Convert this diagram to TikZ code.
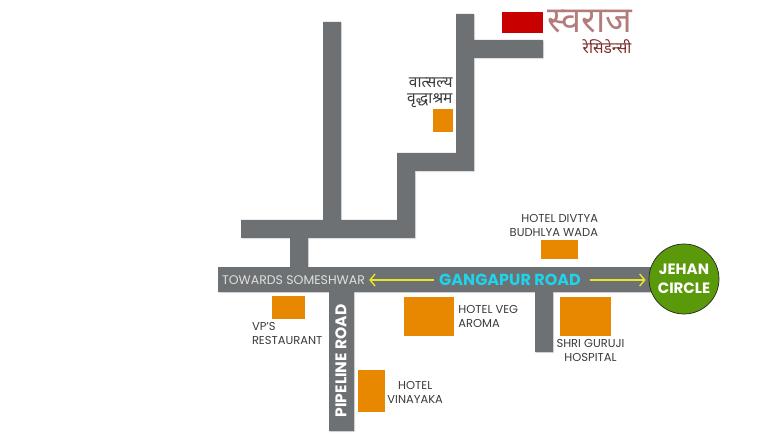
\documentclass[tikz,border=0pt]{standalone}
\usepackage{fontspec}
\setmainfont{Poppins}
\newfontfamily\devfont[Script=Devanagari]{Noto Sans}
\usetikzlibrary{positioning}
\usetikzlibrary{arrows.meta}
\usetikzlibrary{shadows}
\definecolor{roadgray}{HTML}{6D7173}
\definecolor{plotorange}{HTML}{E88700}
\definecolor{plotred}{HTML}{C80000}
\definecolor{circlegreen}{HTML}{5A9A0A}
\definecolor{roadcyan}{HTML}{1FD3EA}
\definecolor{roadyellow}{HTML}{E6E62A}
\definecolor{titlerose}{HTML}{B27C7C}
\definecolor{titlemaroon}{HTML}{7A2A2A}
\definecolor{labelgray}{HTML}{3A3A3A}
\begin{document}
\begin{tikzpicture}[x=1pt,y=-1pt,
    roadbar/.style={fill=roadgray, drop shadow={opacity=0.25, shadow xshift=1.2pt, shadow yshift=-1.2pt}},
    plot/.style={fill=plotorange, draw=none, inner sep=0pt, minimum width=#1},
    place/.style={text=labelgray, font=\fontsize{11.5}{14}\selectfont, align=center, inner sep=0pt},
    roadtext/.style={inner sep=0pt, align=center}]
    \useasboundingbox (0,0) rectangle (780,441);
    %roads, one path so the shadow stays behind all of them
    \fill[roadbar] \foreach \xa/\ya/\xb/\yb in {323/22/341/222, 241/220/415/238, 290/238/308/268,
        218/267/655/292, 329/292/354/431, 397/153/415/220, 397/153/474/171, 456/14/474/171,
        474/40/543/58, 535/292/553/352} { (\xa,\ya) rectangle (\xb,\yb) };

    %plots
    \node[plot=41pt, minimum height=21pt, fill=plotred] (swaraj) at (522.5,22.5) {};
    \node[plot=20pt, minimum height=23pt] (vriddha) at (442.5,120.5) {};
    \node[plot=37pt, minimum height=19pt] (divtya) at (559.5,249.5) {};
    \node[plot=33pt, minimum height=23pt] (vp) at (288.5,307.5) {};
    \node[plot=50pt, minimum height=39pt] (veg) at (429,316.5) {};
    \node[plot=51pt, minimum height=39pt] (guruji) at (585.5,316.5) {};
    \node[plot=27pt, minimum height=42pt] (vinayaka) at (371.5,391) {};

    %labels
    \node[inner sep=0pt, text=titlerose, font=\devfont\fontsize{36}{36}\selectfont] (title) at (590,22) {स्वराज};
    \node[inner sep=0pt, text=titlemaroon, font=\devfont\bfseries\fontsize{15.5}{16}\selectfont] (subtitle) at (607,47) {रेसिडेन्सी};
    \node[place, above=1pt of vriddha.north east, anchor=south east, align=right, font=\devfont\fontsize{15.5}{15.5}\selectfont] (vriddhatext) {वात्सल्य\\वृद्धाश्रम};
    \node[place, above=3pt of divtya.north east, anchor=south east, align=right, xshift=20pt] (divtyatext) {HOTEL DIVTYA\\BUDHLYA WADA};
    \node[place, below=3pt of vp.south west, anchor=north west, xshift=-20pt, align=left] (vptext) {VP'S\\RESTAURANT};
    \node[place, right=4pt of veg, align=left] (vegtext) {HOTEL VEG\\AROMA};
    \node[place, below=3pt of guruji, xshift=5pt] (gurujitext) {SHRI GURUJI\\HOSPITAL};
    \node[place, right=2pt of vinayaka, yshift=-1pt] (vinayakatext) {HOTEL\\VINAYAKA};

    \node[roadtext, text=white!88!black, font=\fontsize{12.5}{14}\selectfont] (towards) at (293.5,280) {TOWARDS SOMESHWAR};
    \node[roadtext, text=roadcyan, font=\bfseries\fontsize{16}{18}\selectfont] (gangapur) at (510,280) {GANGAPUR ROAD};
    \node[roadtext, text=white, rotate=90, font=\bfseries\fontsize{15.5}{17}\selectfont] (pipeline) at (341,361) {PIPELINE ROAD};

    \node[circle, fill=circlegreen, draw=black!85, line width=0.7pt, minimum size=70pt, inner sep=0pt, align=center,
        text=white, font=\bfseries\fontsize{15}{19.5}\selectfont] (jehan) at (684,279) {JEHAN\\CIRCLE};

    %arrows
    \draw[roadyellow, line width=1.4pt, -{Straight Barb[length=5pt,width=12pt]}, shorten >=4pt, shorten <=5pt] (gangapur.west) -- (towards.east);
    \draw[roadyellow, line width=1.4pt, -{Straight Barb[length=5pt,width=12pt]}, shorten >=3pt, shorten <=9pt] (gangapur.east) -- (gangapur.east -| jehan.west);
\end{tikzpicture}
\end{document}
